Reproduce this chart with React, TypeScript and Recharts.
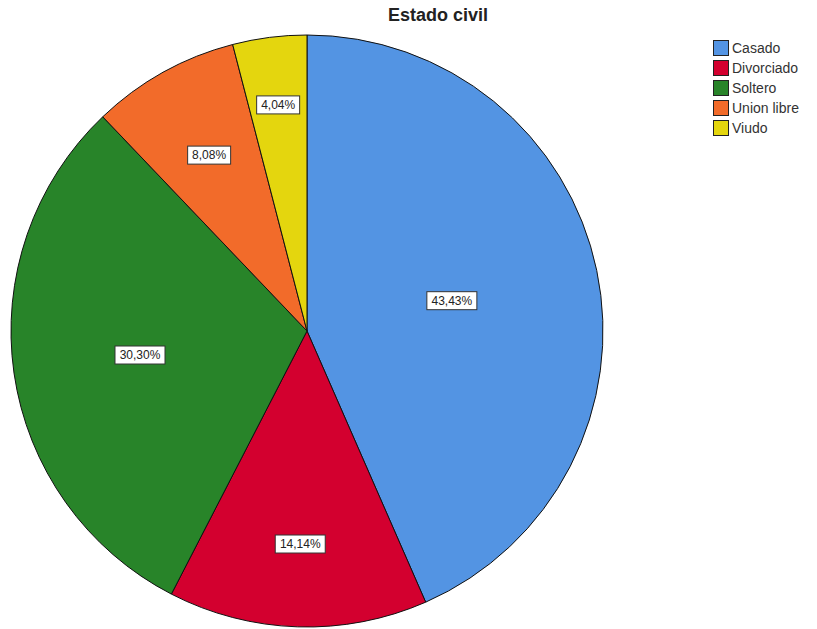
import { PieChart, Pie, Cell, Legend } from 'recharts';

const categories = ['Casado', 'Divorciado', 'Soltero', 'Union libre', 'Viudo'];
const counts = [43, 14, 30, 8, 4];
const percentLabels = ['43,43%', '14,14%', '30,30%', '8,08%', '4,04%'];

const COLORS = ['#5394E3', '#D3002F', '#288429', '#F26B2A', '#E4D60E'];
// how far out each label sits (fraction of radius), as in the original
const LABEL_RADIUS = [0.5, 0.72, 0.57, 0.68, 0.77];

const data = categories.map((name, i) => ({ name, value: counts[i] }));

const RADIAN = Math.PI / 180;

const BoxLabel = (props: any) => {
  const { cx, cy, midAngle, outerRadius, index } = props;
  const r = outerRadius * LABEL_RADIUS[index];
  const x = cx + r * Math.cos(-midAngle * RADIAN);
  const y = cy + r * Math.sin(-midAngle * RADIAN);
  const text = percentLabels[index];
  const w = text.length * 7 + 8;
  const h = 18;
  return (
    <g>
      <rect
        x={x - w / 2}
        y={y - h / 2}
        width={w}
        height={h}
        fill="#fff"
        stroke="#333"
        strokeWidth={1}
      />
      <text
        x={x}
        y={y + 1}
        textAnchor="middle"
        dominantBaseline="middle"
        fontSize={12}
        fill="#222"
        fontFamily="'Liberation Sans', Arial, sans-serif"
      >
        {text}
      </text>
    </g>
  );
};

const LegendBox = () => (
  <div style={{ fontFamily: "'Liberation Sans', Arial, sans-serif", fontSize: 14, color: '#333' }}>
    {categories.map((c, i) => (
      <div key={c} style={{ display: 'flex', alignItems: 'center', height: 20 }}>
        <span
          style={{
            width: 14,
            height: 14,
            background: COLORS[i],
            border: '1px solid #222',
            marginRight: 3,
            display: 'inline-block',
          }}
        />
        <span>{c}</span>
      </div>
    ))}
  </div>
);

export default function App() {
  return (
    <div style={{ position: 'absolute', left: 0, top: 0, width: 817, height: 629, background: '#fff' }}>
      <div
        style={{
          position: 'absolute',
          left: 438,
          top: 5,
          transform: 'translateX(-50%)',
          fontFamily: "'Liberation Sans', Arial, sans-serif",
          fontWeight: 'bold',
          fontSize: 18,
          color: '#222',
          whiteSpace: 'nowrap',
        }}
      >
        Estado civil
      </div>
      <PieChart width={817} height={629}>
        <Pie
          data={data}
          dataKey="value"
          nameKey="name"
          cx={302}
          cy={326}
          outerRadius={296}
          startAngle={90}
          endAngle={-270}
          stroke="#111"
          strokeWidth={1}
          label={BoxLabel}
          labelLine={false}
          isAnimationActive={false}
        >
          {data.map((d, i) => (
            <Cell key={d.name} fill={COLORS[i]} />
          ))}
        </Pie>
        <Legend
          content={<LegendBox />}
          layout="vertical"
          wrapperStyle={{ position: 'absolute', left: 713, top: 38, width: 110 }}
        />
      </PieChart>
    </div>
  );
}
